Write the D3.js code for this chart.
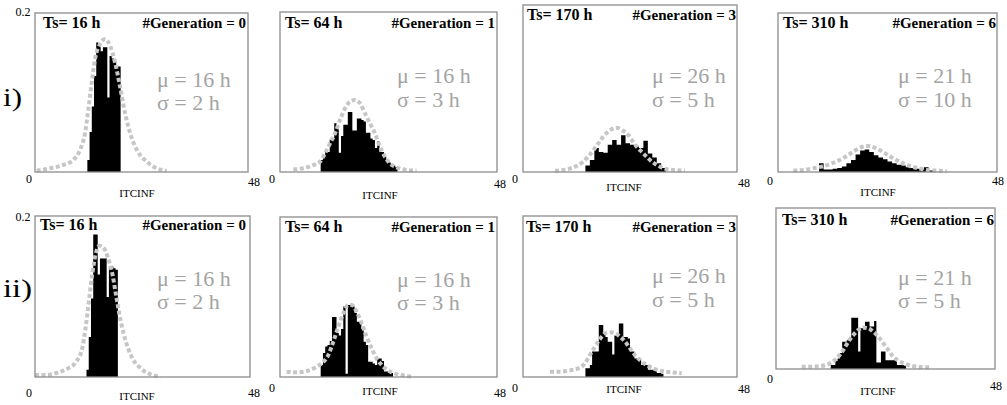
<!DOCTYPE html>
<html>
<head>
<meta charset="utf-8">
<script src="https://cdn.jsdelivr.net/npm/d3@7"></script>
<style>
  body { margin: 0; background: #fff; }
  svg text { font-family: "Liberation Serif", "Times New Roman", serif; }
</style>
</head>
<body>
<div id="chart"></div>
<script>
// header labels, same for both rows
const tsLabels = ["Ts= 16 h", "Ts= 64 h", "Ts= 170 h", "Ts= 310 h"];
const generations = [0, 1, 3, 6];
const mus = [16, 16, 26, 21, 16, 16, 26, 21];
const sigmas = [2, 3, 5, 10, 2, 3, 5, 5];
const rowLabels = ["i)", "ii)"];

// histogram bins (ITCINF in h, density)
const histStart = [11.8, 9, 14, 9, 11.5, 9, 14, 12];
const histBin = [0.5, 0.5, 1, 1, 0.5, 0.5, 0.5, 0.5];
const hist1 = [0.015, 0.05, 0.082, 0.12, 0.162, 0.158, 0.151, 0.156, 0.156, 0.093, 0.145, 0.142, 0.138, 0.132, 0.132];
const hist2 = [0.015, 0.02, 0.025, 0.025, 0.041, 0.041, 0.061, 0.058, 0.024, 0.045, 0.059, 0.059, 0.075, 0.075, 0.052, 0.052,
  0.067, 0.067, 0.065, 0.063, 0.049, 0.049, 0.042, 0.04, 0.03, 0.038, 0.025, 0.025, 0.019, 0.015, 0.012, 0.009, 0.008, 0.006];
const hist3 = [0.008, 0.015, 0.03, 0.025, 0.024, 0.034, 0.04, 0.034, 0.046, 0.036, 0.034, 0.032, 0.03, 0.039, 0.023, 0.018, 0.011, 0.005];
const hist4 = [0.011, 0.003, 0.003, 0.004, 0.005, 0.007, 0.011, 0.015, 0.022, 0.027, 0.028, 0.025, 0.021, 0.018, 0.016,
  0.013, 0.011, 0.009, 0.008, 0.006, 0.005, 0.004, 0.003, 0.006, 0.002];
const hist5 = [0.009, 0.05, 0.098, 0.178, 0.178, 0.128, 0.148, 0.148, 0.148, 0.1, 0.138, 0.138, 0.136, 0.134];
const hist6 = [0.015, 0.03, 0.038, 0.04, 0.045, 0.075, 0.075, 0.055, 0.052, 0.06, 0.088, 0.004, 0.09, 0.09, 0.088, 0.08,
  0.069, 0.069, 0.06, 0.044, 0.04, 0.019, 0.019, 0.017, 0.015, 0.023, 0.023, 0.02, 0.007, 0.007, 0.005, 0.005];
const hist7 = [0.011, 0.011, 0.015, 0.032, 0.032, 0.032, 0.065, 0.065, 0.055, 0.05, 0.044, 0.044, 0.028, 0.052, 0.052,
  0.067, 0.067, 0.05, 0.05, 0.048, 0.032, 0.032, 0.023, 0.023, 0.023, 0.015, 0.015, 0.015, 0.009, 0.009, 0.009, 0.009,
  0.005, 0.005, 0.004];
const hist8 = [0.005, 0.005, 0.01, 0.013, 0.02, 0.034, 0.034, 0.036, 0.04, 0.064, 0.064, 0.064, 0.022, 0.051, 0.051,
  0.059, 0.059, 0.053, 0.053, 0.06, 0.008, 0.008, 0.022, 0.022, 0.011, 0.011, 0.011, 0.011, 0.011, 0.005, 0.005, 0.005, 0.004];

// fitted curves [h, density]
const fit1 = [[0.37,0.0017],[3.38,0.0046],[6.39,0.0088],[8.64,0.0151],[10.14,0.0277],[11.27,0.0486],[12.02,0.078],
  [12.77,0.111],[13.52,0.141],[14.65,0.16],[15.77,0.166],[16.9,0.158],[18.03,0.137],[19.16,0.107],[20.28,0.074],
  [21.41,0.049],[22.91,0.028],[25.16,0.013],[27.42,0.0046],[29.67,0.0017]];
const fit2 = [[2.95,0.0033],[5.16,0.0046],[7.37,0.0087],[8.85,0.0129],[9.95,0.0233],[11.06,0.0358],[12.17,0.0483],
  [13.27,0.065],[14.38,0.0796],[15.48,0.0879],[16.59,0.09],[17.7,0.0858],[18.8,0.0733],[19.9,0.0608],[21.0,0.0483],
  [22.1,0.0317],[23.2,0.0192],[24.3,0.0108],[25.8,0.0058],[28.0,0.0025],[30.2,0.0017]];
const fit3 = [[7.18,0.0017],[9.8,0.0033],[12.0,0.0075],[13.5,0.0129],[14.6,0.0192],[15.8,0.0275],[16.9,0.0358],
  [18.0,0.0442],[19.1,0.0504],[20.3,0.0546],[21.0,0.0554],[22.1,0.0525],[23.3,0.0483],[24.4,0.04],[25.5,0.0317],
  [26.6,0.0254],[27.7,0.0192],[28.9,0.0129],[30.0,0.0088],[31.5,0.0046],[33.7,0.0025],[36.3,0.0017]];
const fit4 = [[3.36,0.0017],[5.55,0.0025],[7.74,0.0046],[9.57,0.0067],[11.4,0.01],[13.2,0.0142],[15.1,0.02],
  [16.5,0.0254],[18.0,0.0304],[19.4,0.0325],[20.5,0.0317],[22.0,0.0283],[23.5,0.0233],[25.3,0.0171],[27.1,0.0117],
  [28.9,0.0075],[30.8,0.0046],[32.6,0.0025],[34.8,0.0017],[37.0,0.0008]];
const fit5 = [[0,0.0025],[2.58,0.0025],[5.16,0.0058],[7.37,0.0108],[9.22,0.0192],[10.54,0.0358],[11.28,0.0608],
  [12.02,0.0942],[12.75,0.1275],[13.49,0.1525],[14.38,0.164],[15.26,0.162],[16.22,0.15],[17.33,0.1275],[18.21,0.0983],
  [19.17,0.0692],[20.28,0.0442],[21.75,0.0233],[23.59,0.0108],[25.8,0.0033],[28.0,0.0004]];
const fit6 = [[1.47,0.0067],[3.69,0.0058],[5.9,0.0075],[7.74,0.0117],[9.22,0.0171],[10.69,0.0275],[11.8,0.0442],
  [12.9,0.0629],[14.0,0.0796],[15.1,0.09],[15.85,0.09],[16.96,0.0817],[18.07,0.0671],[19.17,0.0504],[20.28,0.0358],
  [21.39,0.0233],[22.85,0.0129],[24.7,0.0058],[26.9,0.0025],[29.1,0.0004]];
const fit7 = [[6.06,0.0067],[8.3,0.0067],[10.54,0.0083],[12.4,0.0108],[13.9,0.0171],[15.0,0.0275],[16.15,0.0379],
  [17.27,0.0475],[18.4,0.0546],[19.5,0.0558],[20.6,0.0546],[21.76,0.0504],[22.9,0.0442],[24.0,0.0358],[25.1,0.0275],
  [26.2,0.0213],[27.7,0.015],[29.2,0.0108],[31.1,0.0075],[33.4,0.0058],[35.6,0.0046]];
const fit8 = [[5.63,0.0029],[7.82,0.0029],[10.0,0.0038],[11.84,0.0071],[13.3,0.0133],[14.76,0.0238],[15.85,0.0342],
  [16.95,0.0425],[18.05,0.0488],[19.14,0.0517],[20.24,0.0508],[21.33,0.0467],[22.43,0.0404],[23.52,0.0321],
  [24.6,0.0238],[25.7,0.0154],[27.2,0.0092],[29.0,0.005],[31.2,0.0029],[33.75,0.0021]];

const hists = [hist1, hist2, hist3, hist4, hist5, hist6, hist7, hist8];
const fits = [fit1, fit2, fit3, fit4, fit5, fit6, fit7, fit8];

// page layout, in px
const layout = [
  { box: [35, 13, 248, 172], ts: [43, 28], gen: [246, 28], mu: [157, 87], sig: [157, 110], zero: [29, 183], end: [254, 186], itc: [137, 197] },
  { box: [280, 12, 497, 172], ts: [285, 28], gen: [495, 28], mu: [397, 83], sig: [397, 107], zero: [272, 183], end: [500, 188], itc: [380, 199] },
  { box: [523, 5, 737, 172], ts: [527, 20], gen: [736, 20], mu: [652, 83], sig: [652, 107], zero: [515, 183], end: [744, 187], itc: [624, 191] },
  { box: [778, 13, 997, 172], ts: [783, 28], gen: [996, 28], mu: [898, 83], sig: [898, 107], zero: [770, 185], end: [998, 185], itc: [878, 196] },
  { box: [35, 216, 250, 377], ts: [40, 230], gen: [246, 230], mu: [157, 286], sig: [157, 309], zero: [29, 397], end: [254, 397], itc: [137, 400] },
  { box: [280, 217, 497, 377], ts: [285, 232], gen: [495, 232], mu: [397, 287], sig: [397, 310], zero: [272, 392], end: [500, 397], itc: [380, 395] },
  { box: [523, 216, 737, 377], ts: [526, 232], gen: [736, 232], mu: [652, 283], sig: [652, 307], zero: [515, 392], end: [744, 393], itc: [624, 393] },
  { box: [776, 208, 995, 369], ts: [782, 225], gen: [994, 225], mu: [898, 285], sig: [898, 308], zero: [770, 383], end: [996, 390], itc: [878, 395] }
];
const topLabels = [[23, 16], [23, 221]];
const rowLabelPos = [[3, 106, 19], [3, 297, 29]];

const svg = d3.select("#chart").append("svg")
  .attr("width", 1007)
  .attr("height", 405);

layout.forEach((p, i) => {
  const [x0, y0, x1, y1] = p.box;
  const x = d3.scaleLinear().domain([0, 48]).range([x0, x1]);
  const y = d3.scaleLinear().domain([0, 0.2]).range([y1, y1 - 160]);
  const g = svg.append("g");

  // histogram as one stepped area
  const start = histStart[i], bw = histBin[i];
  const steps = hists[i].map((v, k) => [start + k * bw, v]);
  steps.push([start + hists[i].length * bw, hists[i][hists[i].length - 1]]);
  g.append("path")
    .datum(steps)
    .attr("fill", "#000")
    .attr("d", d3.area()
      .curve(d3.curveStepAfter)
      .x(d => x(d[0]))
      .y0(y(0))
      .y1(d => y(d[1])));

  // fitted curve, thick grey dots
  g.append("path")
    .datum(fits[i])
    .attr("fill", "none")
    .attr("stroke", "#c6c6c6")
    .attr("stroke-width", 4)
    .attr("stroke-dasharray", "4 2.5")
    .attr("d", d3.line()
      .curve(d3.curveMonotoneX)
      .x(d => x(d[0]))
      .y(d => y(d[1])));

  // frame
  g.append("rect")
    .attr("x", x0).attr("y", y0)
    .attr("width", x1 - x0).attr("height", y1 - y0)
    .attr("fill", "none")
    .attr("stroke", "#8c8c8c")
    .attr("stroke-width", 1.3);

  g.append("text").attr("x", p.ts[0]).attr("y", p.ts[1])
    .attr("font-size", 16).attr("font-weight", "bold")
    .text(tsLabels[i % 4]);
  g.append("text").attr("x", p.gen[0]).attr("y", p.gen[1])
    .attr("font-size", 15).attr("font-weight", "bold").attr("text-anchor", "end")
    .text("#Generation = " + generations[i % 4]);

  g.append("text").attr("x", p.mu[0]).attr("y", p.mu[1])
    .attr("font-size", 22).attr("fill", "#a3a3a3")
    .text("\u03bc = " + mus[i] + " h");
  g.append("text").attr("x", p.sig[0]).attr("y", p.sig[1])
    .attr("font-size", 22).attr("fill", "#a3a3a3")
    .text("\u03c3 = " + sigmas[i] + " h");

  g.append("text").attr("x", p.zero[0]).attr("y", p.zero[1])
    .attr("font-size", 12).attr("text-anchor", "middle")
    .text("0");
  g.append("text").attr("x", p.end[0]).attr("y", p.end[1])
    .attr("font-size", 12).attr("text-anchor", "middle")
    .text("48");
  g.append("text").attr("x", p.itc[0]).attr("y", p.itc[1])
    .attr("font-size", 11).attr("text-anchor", "middle")
    .text("ITCINF");
});

topLabels.forEach(([tx, ty]) => {
  svg.append("text").attr("x", tx).attr("y", ty)
    .attr("font-size", 12).attr("text-anchor", "middle")
    .text("0.2");
});

rowLabels.forEach((t, r) => {
  svg.append("text")
    .attr("x", rowLabelPos[r][0]).attr("y", rowLabelPos[r][1])
    .attr("font-size", 26)
    .attr("textLength", rowLabelPos[r][2])
    .attr("lengthAdjust", "spacingAndGlyphs")
    .text(t);
});
</script>
</body>
</html>
